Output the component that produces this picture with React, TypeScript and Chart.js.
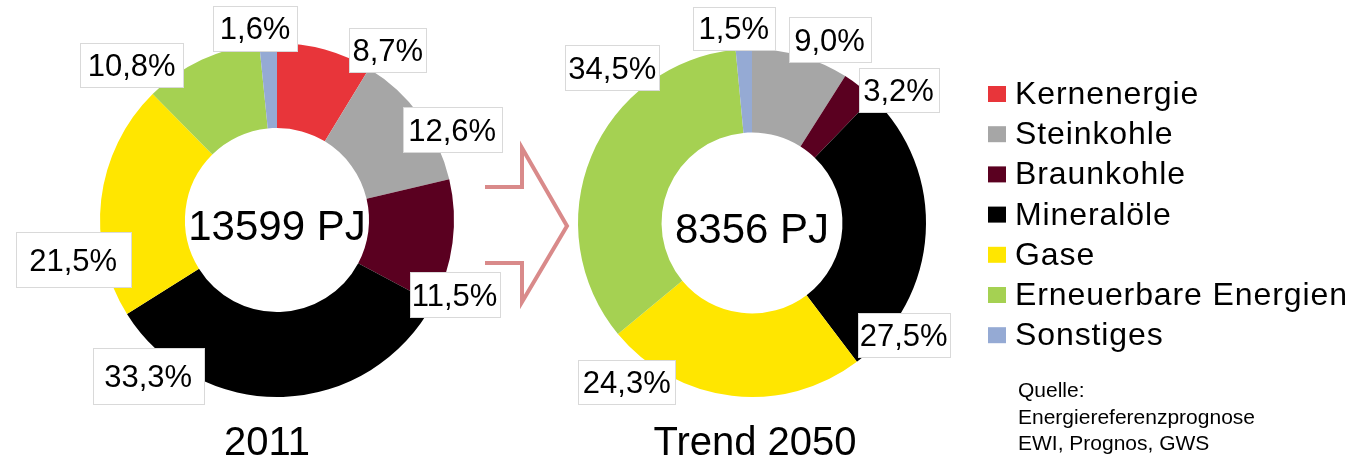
import React, { useEffect, useRef } from "react";
import { Chart, registerables } from "chart.js";

Chart.register(...registerables);

// ---- data ----
const CATEGORIES = [
  "Kernenergie",
  "Steinkohle",
  "Braunkohle",
  "Mineralöle",
  "Gase",
  "Erneuerbare Energien",
  "Sonstiges",
];
const SHARE_2011 = [8.7, 12.6, 11.5, 33.3, 21.5, 10.8, 1.6];
const SHARE_2050 = [0, 9.0, 3.2, 27.5, 24.3, 34.5, 1.5];
const TOTAL_2011 = "13599 PJ";
const TOTAL_2050 = "8356 PJ";
const TITLE_2011 = "2011";
const TITLE_2050 = "Trend 2050";
const SOURCE_LINES = ["Quelle:", "Energiereferenzprognose", "EWI, Prognos, GWS"];

// ---- styles / layout ----
const COLORS = ["#e8353a", "#a6a6a6", "#5a0020", "#000000", "#ffe600", "#a5d152", "#95aad4"];
const FONT = "'Liberation Sans', Arial, sans-serif";
// label offset from the slice's outer-edge midpoint
const NUDGE_2011 = [[63, 0], [32, 14], [2, 52], [-135, -21], [-28, 60], [-70, 5], [-13, -15]];
const NUDGE_2050 = [[0, 0], [29, -16], [39, 4], [-22, 102], [-105, -14], [21, -89], [-10, -21]];
// label box sizes [w, h]
const BOX_2011 = [[77, 44], [99, 45], [90, 45], [111, 56], [115, 55], [103, 44], [84, 45]];
const BOX_2050 = [[0, 0], [82, 45], [80, 44], [92, 44], [97, 44], [94, 45], [82, 43]];

const sliceLabelPlugin = {
  id: "sliceLabels",
  afterDatasetsDraw(chart: any, _args: any, opts: any) {
    const ctx = chart.ctx as CanvasRenderingContext2D;
    const meta = chart.getDatasetMeta(0);
    const data = chart.data.datasets[0].data as number[];
    ctx.save();
    let cx0 = 0;
    let cy0 = 0;
    meta.data.forEach((arc: any, i: number) => {
      const p = arc.getProps(["x", "y", "startAngle", "endAngle", "outerRadius"], true);
      cx0 = p.x;
      cy0 = p.y;
      const v = data[i];
      if (!v) return;
      const mid = (p.startAngle + p.endAngle) / 2;
      const ax = p.x + Math.cos(mid) * p.outerRadius;
      const ay = p.y + Math.sin(mid) * p.outerRadius;
      const [dx, dy] = opts.nudge[i];
      const cx = ax + dx;
      const cy = ay + dy;
      const text = v.toFixed(1).replace(".", ",") + "%";
      ctx.font = `31px ${FONT}`;
      const [w, h] = opts.box[i];
      const bx = Math.round(cx - w / 2);
      const by = Math.round(cy - h / 2);
      ctx.fillStyle = "#ffffff";
      ctx.fillRect(bx, by, w, h);
      ctx.strokeStyle = "#d9d9d9";
      ctx.lineWidth = 1;
      ctx.strokeRect(bx + 0.5, by + 0.5, w, h);
      ctx.fillStyle = "#000000";
      ctx.textAlign = "center";
      ctx.textBaseline = "alphabetic";
      ctx.fillText(text, cx, cy + 31 * 0.358);
    });
    ctx.fillStyle = "#000000";
    ctx.textAlign = "center";
    ctx.textBaseline = "alphabetic";
    ctx.font = `42px ${FONT}`;
    ctx.fillText(opts.total, cx0, cy0 + 20);
    ctx.font = `40px ${FONT}`;
    ctx.fillText(opts.title, cx0 + opts.titleDx, 455);
    ctx.restore();
  },
};

function makeConfig(values: number[], pad: any, nudge: number[][], box: number[][], total: string, title: string, titleDx: number) {
  return {
    type: "doughnut" as const,
    data: {
      labels: CATEGORIES,
      datasets: [
        {
          data: values,
          backgroundColor: COLORS,
          borderWidth: 0,
          hoverBorderWidth: 0,
          offset: 0,
          hoverOffset: 0,
        },
      ],
    },
    options: {
      responsive: false,
      animation: false,
      events: [],
      cutout: "52%",
      layout: { padding: pad },
      plugins: {
        legend: { display: false },
        tooltip: { enabled: false },
        sliceLabels: { nudge, box, total, title, titleDx },
      },
    },
    plugins: [sliceLabelPlugin],
  };
}

export default function App() {
  const leftRef = useRef<HTMLCanvasElement>(null);
  const rightRef = useRef<HTMLCanvasElement>(null);

  useEffect(() => {
    const c1 = new Chart(
      leftRef.current as HTMLCanvasElement,
      makeConfig(SHARE_2011, { left: 100, right: 66, top: 43, bottom: 62 }, NUDGE_2011, BOX_2011, TOTAL_2011, TITLE_2011, -10) as any
    );
    const c2 = new Chart(
      rightRef.current as HTMLCanvasElement,
      makeConfig(SHARE_2050, { left: 58, right: 54, top: 49, bottom: 62 }, NUDGE_2050, BOX_2050, TOTAL_2050, TITLE_2050, 3) as any
    );
    return () => {
      c1.destroy();
      c2.destroy();
    };
  }, []);

  return (
    <div style={{ position: "absolute", left: 0, top: 0, width: 1348, height: 459, background: "#fff", overflow: "hidden" }}>
      <canvas ref={leftRef} width={520} height={459} style={{ position: "absolute", left: 0, top: 0, width: 520, height: 459 }} />
      <canvas ref={rightRef} width={460} height={459} style={{ position: "absolute", left: 520, top: 0, width: 460, height: 459 }} />
      <svg width={1348} height={459} style={{ position: "absolute", left: 0, top: 0, pointerEvents: "none" }}>
        <polyline
          points="485,187 522,187 522,148 567,226 522,302 522,263 485,263"
          fill="none"
          stroke="#d98a8a"
          strokeWidth={4}
          strokeLinejoin="miter"
        />
        {CATEGORIES.map((c, i) => (
          <g key={c}>
            <rect x={988} y={86 + i * 40.2} width={18} height={16} fill={COLORS[i]} />
            <text x={1015} y={104 + i * 40.2} fontFamily={FONT} fontSize={32} letterSpacing={0.9} fill="#000">
              {c}
            </text>
          </g>
        ))}
        {SOURCE_LINES.map((s, i) => (
          <text key={s} x={1018} y={397 + i * 26.7} fontFamily={FONT} fontSize={21} fill="#000">
            {s}
          </text>
        ))}
      </svg>
    </div>
  );
}
